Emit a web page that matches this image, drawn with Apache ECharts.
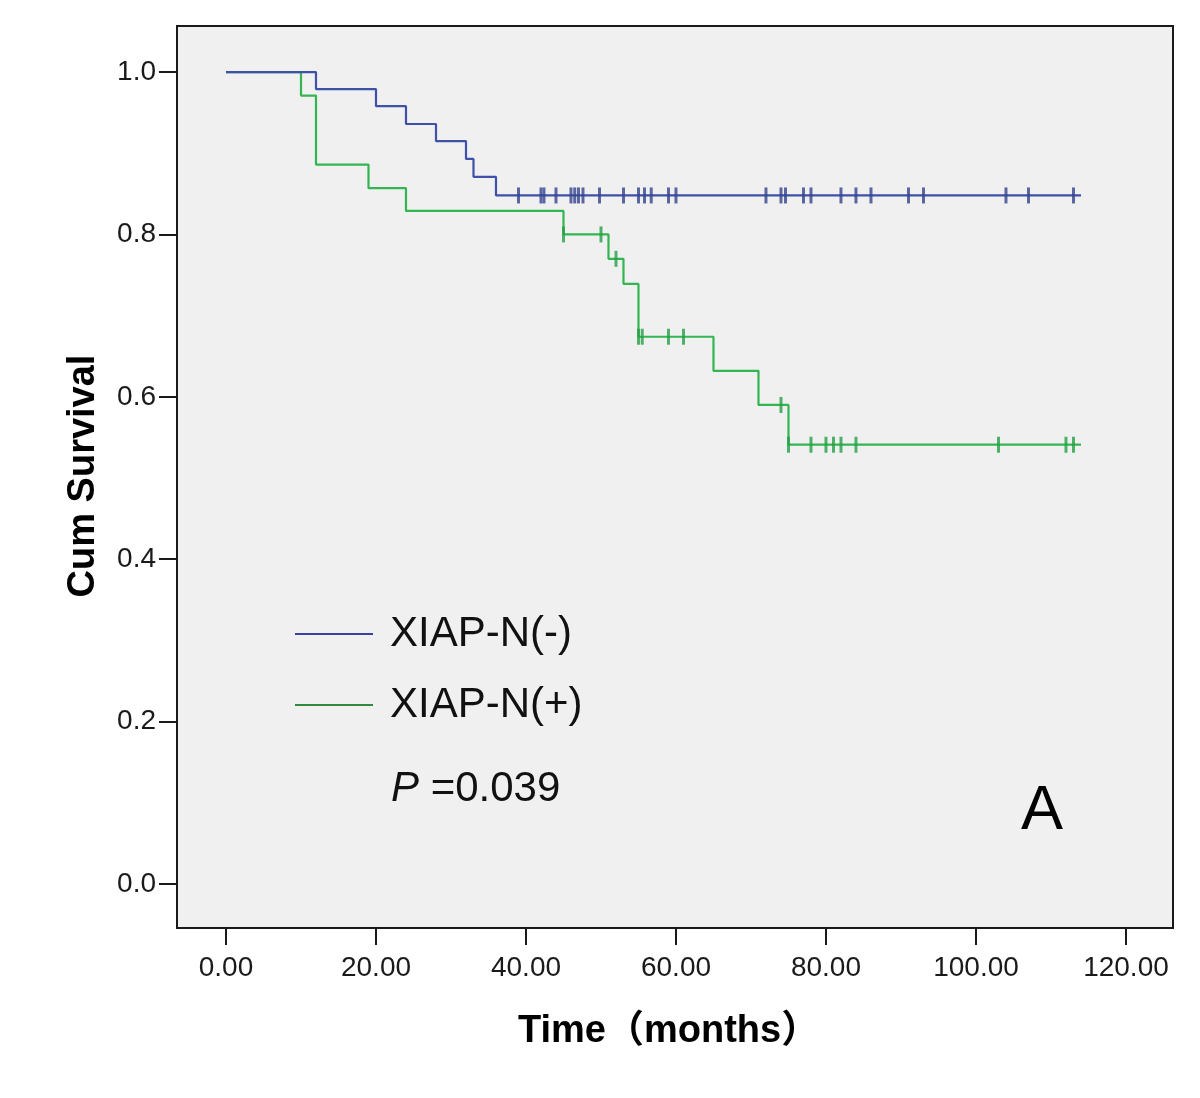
<!DOCTYPE html>
<html>
<head>
<meta charset="utf-8">
<script src="https://cdn.jsdelivr.net/npm/echarts@6/dist/echarts.min.js"></script>
<style>
  html, body { margin: 0; padding: 0; background: #ffffff; }
  #chart { width: 1200px; height: 1098px; }
</style>
</head>
<body>
<div id="chart"></div>
<script>
// ---- data ----
const seriesNames = ['XIAP-N(-)', 'XIAP-N(+)'];

// XIAP-N(-): event times (months) and survival after each event
const negEventTimes = [0, 12, 20, 24, 28, 32, 33, 36];
const negSurvival   = [1.0, 0.979, 0.958, 0.936, 0.915, 0.893, 0.871, 0.848];
const negEndTime = 114;
const negCensorTimes = [39, 42, 42.4, 44, 46, 46.5, 47, 47.6, 49.8, 53, 55, 55.8, 56.7, 59, 60,
                        72, 74, 74.6, 77, 78, 82, 84, 86, 91, 93, 104, 107, 113];

// XIAP-N(+)
const posEventTimes = [0, 10, 12, 19, 24, 45, 51, 53, 55, 65, 71, 75];
const posSurvival   = [1.0, 0.971, 0.886, 0.857, 0.829, 0.800, 0.770, 0.739, 0.674, 0.632, 0.590, 0.541];
const posEndTime = 114;
const posCensorTimes = [45, 50, 52, 55, 55.5, 59, 61, 74, 75, 78, 80, 81, 82, 84, 103, 112, 113];

const xTicks = [0, 20, 40, 60, 80, 100, 120];
const yTicks = [0, 0.2, 0.4, 0.6, 0.8, 1.0];
const pValueText = '=0.039';
const panelLabel = 'A';

// ---- helpers ----
function stepPoints(times, surv, endT) {
  const pts = times.map((t, i) => [t, surv[i]]);
  pts.push([endT, surv[surv.length - 1]]);
  return pts;
}
function survAt(times, surv, t) {
  let s = surv[0];
  for (let i = 0; i < times.length; i++) if (times[i] <= t) s = surv[i];
  return s;
}
function censorPoints(cTimes, times, surv) {
  return cTimes.map(t => [t, survAt(times, surv, t)]);
}

const BLUE = '#3F50A8';
const BLUE_MARK = '#34448F';
const GREEN = '#33B552';
const GREEN_MARK = '#25A046';
const FONT = '"Liberation Sans", Arial, "Noto Sans CJK SC", sans-serif';

const chart = echarts.init(document.getElementById('chart'), null, { renderer: 'canvas' });

const option = {
  animation: false,
  backgroundColor: '#ffffff',
  grid: {
    left: 177, top: 26, right: 27, bottom: 170,
    show: true,
    backgroundColor: '#f0f0f0',
    borderColor: '#1a1a1a',
    borderWidth: 2
  },
  xAxis: {
    type: 'value',
    min: -6.533, max: 126.27,
    axisLine: { show: false, onZero: false },
    splitLine: { show: false },
    axisTick: { show: true, customValues: xTicks, length: 17, lineStyle: { color: '#1a1a1a', width: 2 } },
    axisLabel: {
      customValues: xTicks,
      formatter: v => v.toFixed(2),
      fontSize: 28, fontFamily: FONT, color: '#1a1a1a', margin: 26
    }
  },
  yAxis: {
    type: 'value',
    min: -0.0542, max: 1.0567,
    axisLine: { show: false, onZero: false },
    splitLine: { show: false },
    axisTick: { show: true, customValues: yTicks, length: 18, lineStyle: { color: '#1a1a1a', width: 2 } },
    axisLabel: {
      customValues: yTicks,
      formatter: v => v.toFixed(1),
      fontSize: 28, fontFamily: FONT, color: '#1a1a1a', margin: 21
    }
  },
  legend: {
    data: [
      { name: seriesNames[0], icon: 'rect', itemStyle: { color: '#3A42A0' } },
      { name: seriesNames[1], icon: 'rect', itemStyle: { color: '#2E8B40' } }
    ],
    orient: 'vertical',
    left: 295, top: 613,
    itemWidth: 78, itemHeight: 2,
    itemGap: 29,
    padding: 0,
    textStyle: { fontSize: 42, fontFamily: FONT, color: '#111', padding: [0, 0, 0, 12] }
  },
  series: [
    {
      name: seriesNames[0], type: 'line', step: 'end',
      data: stepPoints(negEventTimes, negSurvival, negEndTime),
      symbol: 'none', lineStyle: { color: BLUE, width: 2.2 }, itemStyle: { color: BLUE },
      z: 3
    },
    {
      name: seriesNames[1], type: 'line', step: 'end',
      data: stepPoints(posEventTimes, posSurvival, posEndTime),
      symbol: 'none', lineStyle: { color: GREEN, width: 2.2 }, itemStyle: { color: GREEN },
      z: 2
    },
    {
      name: seriesNames[0] + ' censored', type: 'scatter',
      data: censorPoints(negCensorTimes, negEventTimes, negSurvival),
      symbol: 'rect', symbolSize: [3, 16], itemStyle: { color: BLUE_MARK }, z: 4
    },
    {
      name: seriesNames[1] + ' censored', type: 'scatter',
      data: censorPoints(posCensorTimes, posEventTimes, posSurvival),
      symbol: 'rect', symbolSize: [3, 16], itemStyle: { color: GREEN_MARK }, z: 4
    }
  ],
  graphic: [
    {
      type: 'text', left: 518, top: 1013,
      style: { text: 'Time（months）', fontSize: 38, fontWeight: 'bold', fontFamily: FONT, fill: '#000' }
    },
    {
      type: 'text', x: 65, y: 476, rotation: Math.PI / 2,
      style: { text: 'Cum Survival', fontSize: 38, fontWeight: 'bold', fontFamily: FONT, fill: '#000',
               align: 'center', verticalAlign: 'top' }
    },
    {
      type: 'text', x: 391, y: 789,
      style: {
        text: '{i|P} ' + pValueText,
        fontSize: 42, fontFamily: FONT, fill: '#111', verticalAlign: 'middle',
        rich: { i: { fontStyle: 'italic', fontSize: 42, fontFamily: FONT, fill: '#111' } }
      }
    },
    {
      type: 'text', x: 1021, y: 812,
      style: { text: panelLabel, fontSize: 63, fontFamily: FONT, fill: '#000', verticalAlign: 'middle' }
    }
  ]
};

chart.setOption(option);
</script>
</body>
</html>
